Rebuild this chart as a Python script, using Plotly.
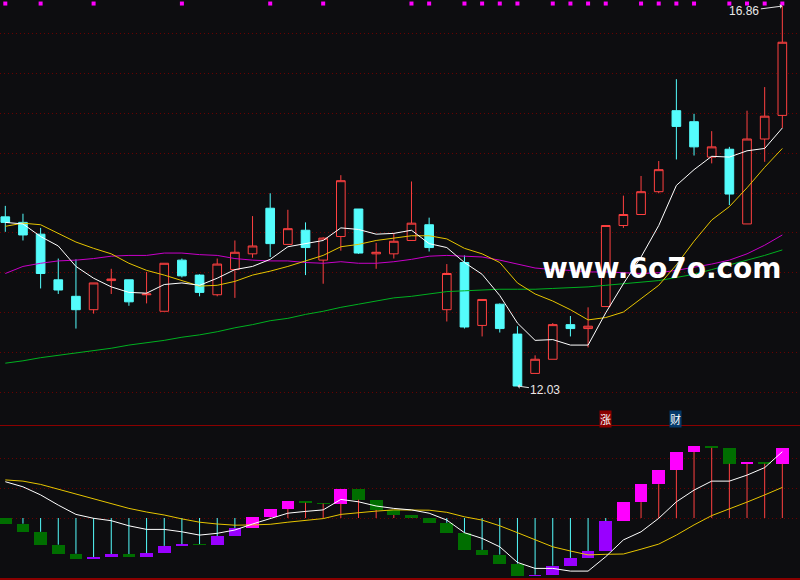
import plotly.graph_objects as go

# ---------------- data ----------------
idx = list(range(45))

opens  = [14.18, 14.11, 13.96, 13.38, 13.17, 13.00, 13.37, 13.38, 13.19, 12.98,
          13.63, 13.44, 13.19, 13.51, 13.71, 14.29, 13.83, 14.01, 13.63, 13.93,
          14.28, 13.71, 13.71, 13.88, 14.08, 13.00, 13.60, 12.80, 13.07, 12.69,
          12.19, 12.37, 12.81, 12.76, 13.04, 14.07, 14.21, 14.50, 15.53, 15.39,
          14.94, 15.04, 14.09, 15.17, 15.47]
highs  = [14.32, 14.22, 14.04, 13.65, 13.64, 13.34, 13.52, 13.38, 13.48, 13.59,
          13.65, 13.45, 13.65, 13.88, 14.19, 14.48, 14.27, 14.11, 13.92, 14.71,
          14.28, 13.85, 13.97, 14.63, 14.17, 13.58, 13.69, 13.13, 13.08, 12.79,
          12.42, 12.83, 12.92, 13.03, 14.07, 14.45, 14.70, 14.89, 15.93, 15.49,
          15.27, 15.07, 15.53, 15.83, 16.86]
lows   = [13.99, 13.88, 13.27, 13.20, 12.76, 12.95, 13.20, 13.05, 13.08, 12.98,
          13.41, 13.17, 13.17, 13.15, 13.66, 13.67, 13.83, 13.44, 13.33, 13.75,
          13.71, 13.52, 13.65, 13.88, 13.74, 12.85, 12.76, 12.66, 12.71, 12.03,
          12.19, 12.37, 12.66, 12.52, 13.04, 14.04, 14.21, 14.48, 14.91, 14.96,
          14.86, 14.33, 14.09, 14.88, 15.31]
closes = [14.11, 13.95, 13.46, 13.25, 13.00, 13.34, 13.39, 13.10, 13.20, 13.59,
          13.43, 13.22, 13.58, 13.73, 13.81, 13.84, 14.03, 13.79, 13.91, 14.64,
          13.72, 13.73, 13.87, 14.10, 13.79, 13.46, 12.78, 13.13, 12.76, 12.03,
          12.37, 12.81, 12.76, 12.79, 14.07, 14.21, 14.50, 14.78, 15.33, 15.07,
          15.07, 14.47, 15.17, 15.46, 16.40]

ma5  = [14.11, 14.09, 13.93, 13.81, 13.55, 13.40, 13.29, 13.22, 13.21, 13.32,
        13.34, 13.31, 13.40, 13.51, 13.55, 13.64, 13.80, 13.84, 13.88, 14.04,
        14.02, 13.96, 13.97, 14.01, 13.84, 13.79, 13.60, 13.45, 13.18, 12.83,
        12.61, 12.62, 12.55, 12.55, 12.96, 13.33, 13.67, 14.07, 14.58, 14.78,
        14.95, 14.94, 15.02, 15.05, 15.31]
ma10 = [14.06, 14.10, 14.08, 13.97, 13.86, 13.78, 13.71, 13.59, 13.50, 13.44,
        13.37, 13.30, 13.31, 13.36, 13.44, 13.49, 13.55, 13.62, 13.69, 13.80,
        13.83, 13.88, 13.91, 13.94, 13.94, 13.90, 13.78, 13.71, 13.60, 13.34,
        13.20, 13.11, 13.00, 12.87, 12.90, 12.97, 13.14, 13.31, 13.57, 13.87,
        14.14, 14.31, 14.55, 14.81, 15.05]
ma20 = [13.46, 13.55, 13.59, 13.62, 13.63, 13.65, 13.68, 13.69, 13.69, 13.72,
        13.72, 13.70, 13.69, 13.65, 13.63, 13.62, 13.62, 13.60, 13.59, 13.61,
        13.59, 13.59, 13.61, 13.64, 13.68, 13.69, 13.68, 13.67, 13.63, 13.58,
        13.53, 13.51, 13.50, 13.48, 13.48, 13.47, 13.46, 13.47, 13.50, 13.54,
        13.58, 13.63, 13.71, 13.82, 13.95]
ma60 = [12.32, 12.35, 12.39, 12.42, 12.45, 12.48, 12.51, 12.55, 12.58, 12.61,
        12.65, 12.68, 12.72, 12.77, 12.81, 12.86, 12.89, 12.94, 12.98, 13.03,
        13.07, 13.11, 13.15, 13.17, 13.20, 13.23, 13.24, 13.25, 13.26, 13.26,
        13.26, 13.27, 13.28, 13.29, 13.31, 13.33, 13.35, 13.37, 13.41, 13.45,
        13.51, 13.57, 13.63, 13.69, 13.76]

signal_idx = [0, 2, 5, 10, 15, 18, 23, 24, 26, 27, 28, 29, 31, 32, 33, 34,
              36, 37, 38, 39, 41, 42, 43, 44]

# lower indicator
osc_start = 0.0
osc = [-0.019, -0.046, -0.089, -0.119, -0.136, -0.130, -0.120, -0.129, -0.117, -0.093,
       -0.087, -0.090, -0.060, -0.033, 0.003, 0.030, 0.057, 0.051, 0.048, 0.097,
       0.061, 0.027, 0.010, 0.001, -0.016, -0.049, -0.106, -0.122, -0.152, -0.192,
       -0.189, -0.159, -0.133, -0.110, -0.010, 0.053, 0.113, 0.160, 0.220, 0.240,
       0.234, 0.181, 0.188, 0.181, 0.233]
osc_fast = [0.121, 0.104, 0.077, 0.043, 0.012, -0.001, -0.009, -0.026, -0.038, -0.038,
            -0.046, -0.057, -0.051, -0.040, -0.020, -0.001, 0.016, 0.022, 0.027, 0.062,
            0.054, 0.040, 0.032, 0.027, 0.016, -0.007, -0.049, -0.068, -0.096, -0.148,
            -0.168, -0.168, -0.177, -0.177, -0.129, -0.073, -0.046, -0.001, 0.054, 0.093,
            0.123, 0.123, 0.143, 0.168, 0.221]
osc_slow = [0.127, 0.123, 0.112, 0.096, 0.080, 0.062, 0.047, 0.032, 0.020, 0.010,
            -0.003, -0.014, -0.020, -0.024, -0.023, -0.021, -0.014, -0.009, -0.002, 0.012,
            0.018, 0.023, 0.027, 0.027, 0.026, 0.019, 0.004, -0.007, -0.026, -0.049,
            -0.073, -0.096, -0.110, -0.123, -0.121, -0.120, -0.104, -0.087, -0.057, -0.023,
            0.008, 0.030, 0.053, 0.077, 0.102]

high_label = "16.86"
low_label = "12.03"
watermark = "www.6o7o.com"

# ---------------- styles ----------------
BG = "#0d0d10"
UP = "#ff4040"
DOWN = "#54fcfc"
GRID = "#6a0000"
X_RANGE = [-0.3, 45.0]
Y_RANGE = [11.598, 16.937]

fig = go.Figure()

fig.add_trace(go.Candlestick(
    x=idx, open=opens, high=highs, low=lows, close=closes,
    increasing=dict(line=dict(color=UP, width=1), fillcolor=BG),
    decreasing=dict(line=dict(color=DOWN, width=1), fillcolor=DOWN),
    whiskerwidth=0, xaxis="x", yaxis="y", showlegend=False, hoverinfo="skip"))

for vals, col in [(ma60, "#00b020"), (ma20, "#c800c8"), (ma10, "#e6c400"), (ma5, "#ffffff")]:
    fig.add_trace(go.Scatter(x=idx, y=vals, mode="lines", line=dict(color=col, width=1),
                             xaxis="x", yaxis="y", showlegend=False, hoverinfo="skip"))

fig.add_trace(go.Scatter(x=signal_idx, y=[Y_RANGE[1] - 0.045] * len(signal_idx), mode="markers",
                         marker=dict(symbol="square", size=4, color="#ff00ff", line=dict(width=0)),
                         xaxis="x", yaxis="y", showlegend=False, hoverinfo="skip"))

# lower panel boxes
prev = [osc_start] + osc[:-1]
bases, heights, cols = [], [], []
for p, v in zip(prev, osc):
    bases.append(min(p, v))
    heights.append(abs(v - p))
    if v > p:
        cols.append("#ff00ff" if v > 0 else "#9900ff")
    else:
        cols.append("#006e00")

cx, cy, rx, ry = [], [], [], []
for i, (p, v) in enumerate(zip(prev, osc)):
    hi, lo = max(p, v), min(p, v)
    if hi < 0:
        cx += [i, i, None]; cy += [0, hi, None]
    elif lo > 0:
        rx += [i, i, None]; ry += [0, lo, None]

fig.add_trace(go.Scatter(x=cx, y=cy, mode="lines", line=dict(color=DOWN, width=1),
                         xaxis="x2", yaxis="y2", showlegend=False, hoverinfo="skip"))
fig.add_trace(go.Scatter(x=rx, y=ry, mode="lines", line=dict(color=UP, width=1),
                         xaxis="x2", yaxis="y2", showlegend=False, hoverinfo="skip"))
fig.add_trace(go.Bar(x=idx, y=heights, base=bases, width=0.72,
                     marker=dict(color=cols, line=dict(width=0)),
                     xaxis="x2", yaxis="y2", showlegend=False, hoverinfo="skip"))
fig.add_trace(go.Scatter(x=idx, y=osc_slow, mode="lines", line=dict(color="#e6c400", width=1),
                         xaxis="x2", yaxis="y2", showlegend=False, hoverinfo="skip"))
fig.add_trace(go.Scatter(x=idx, y=osc_fast, mode="lines", line=dict(color="#ffffff", width=1),
                         xaxis="x2", yaxis="y2", showlegend=False, hoverinfo="skip"))

fig.update_layout(
    width=800, height=580, margin=dict(l=0, r=0, t=0, b=0),
    paper_bgcolor=BG, plot_bgcolor=BG, showlegend=False,
    xaxis=dict(domain=[0, 1], range=X_RANGE, anchor="y", showgrid=False, zeroline=False,
               showticklabels=False, ticks="", rangeslider=dict(visible=False)),
    yaxis=dict(domain=[0.2759, 1], range=Y_RANGE, tick0=11.95, dtick=0.5064,
               showgrid=True, gridcolor=GRID, griddash="1px,3px", gridwidth=1,
               zeroline=False, showticklabels=False, ticks=""),
    xaxis2=dict(domain=[0, 1], range=X_RANGE, anchor="y2", showgrid=False, zeroline=False,
                showticklabels=False, ticks="", showline=True, mirror=True,
                linecolor="#8a0000", linewidth=1.5),
    yaxis2=dict(domain=[2 / 580, 154 / 580], range=[-0.2, 0.3067], tickvals=[0, 0.1, 0.2],
                showgrid=True, gridcolor=GRID, griddash="1px,3px", gridwidth=1,
                zeroline=False, showticklabels=False, ticks=""),
    bargap=0,
)

fig.add_annotation(x=44, y=highs[44], xref="x", yref="y", text=high_label, showarrow=True,
                   ax=-38, ay=5, arrowhead=1, arrowsize=0.8, arrowwidth=1, arrowcolor="#e0e0e0",
                   font=dict(family="Liberation Sans", size=12, color="#e8e8e8"))
fig.add_annotation(x=29, y=lows[29], xref="x", yref="y", text=low_label, showarrow=True,
                   ax=28, ay=4, arrowhead=1, arrowsize=0.8, arrowwidth=1, arrowcolor="#e0e0e0",
                   font=dict(family="Liberation Sans", size=12, color="#e8e8e8"))
fig.add_annotation(x=662 / 800, y=1 - 268 / 580, xref="paper", yref="paper",
                   xanchor="center", yanchor="middle", text="<b>" + watermark + "</b>",
                   showarrow=False, font=dict(family="DejaVu Sans", size=28, color="#ffffff"))
fig.add_annotation(x=605.5 / 800, y=1 - 418.5 / 580, xref="paper", yref="paper",
                   xanchor="center", yanchor="middle", text="涨",
                   showarrow=False, bgcolor="#8b0000", borderpad=0,
                   font=dict(family="Noto Sans CJK SC", size=11, color="#ffffff"))
fig.add_annotation(x=675.5 / 800, y=1 - 418.5 / 580, xref="paper", yref="paper",
                   xanchor="center", yanchor="middle", text="财",
                   showarrow=False, bgcolor="#063a6a", borderpad=0,
                   font=dict(family="Noto Sans CJK SC", size=11, color="#ffffff"))

fig.write_html("out.html", config={"displayModeBar": False, "staticPlot": True},
               post_script="document.body.style.margin='0px';document.body.style.overflow='hidden';")
